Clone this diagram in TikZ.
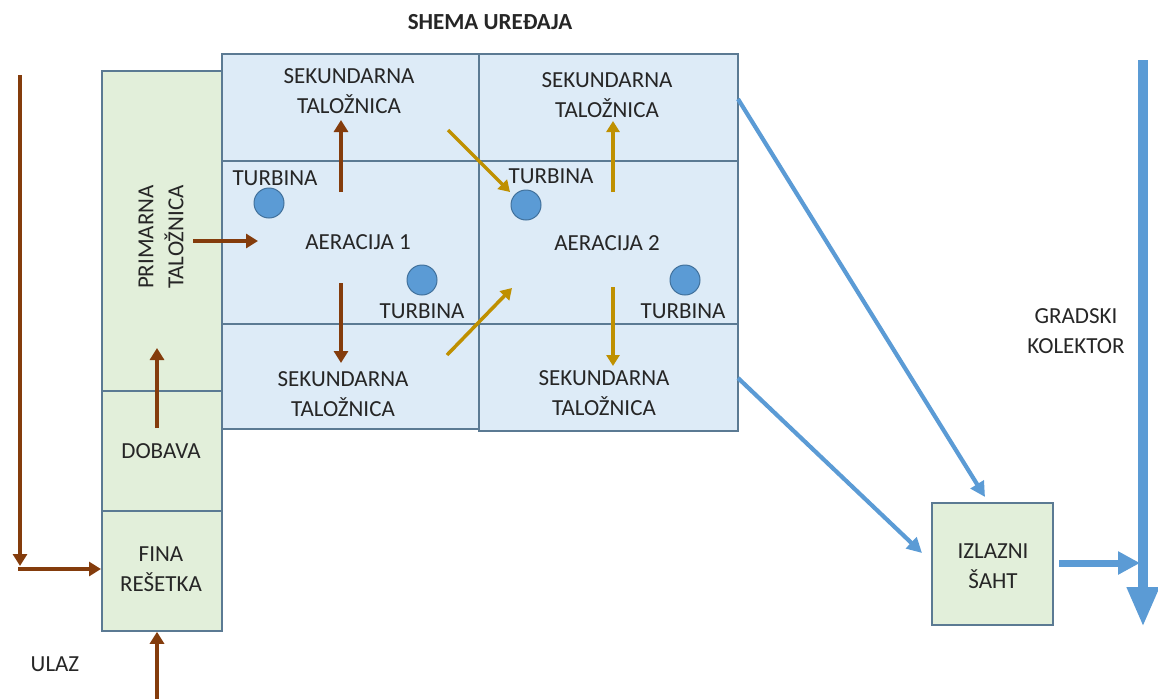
\documentclass[tikz,border=0pt]{standalone}
\usepackage{fontspec}
\setmainfont{Carlito}
\usetikzlibrary{arrows.meta}
\definecolor{edgeC}{HTML}{5B7A93}
\definecolor{greenF}{HTML}{E2EFDA}
\definecolor{blueF}{HTML}{DDEBF7}
\definecolor{brownA}{HTML}{843C0C}
\definecolor{goldA}{HTML}{BF9000}
\definecolor{blueA}{HTML}{5B9BD5}
\definecolor{blueD}{HTML}{41719C}
\definecolor{txt}{HTML}{262626}
\tikzset{
  box/.style={draw=edgeC, line width=1.8pt, anchor=north west, inner sep=0pt},
  gbox/.style={box, fill=greenF},
  bbox/.style={box, fill=blueF},
  lbl/.style={font=\fontsize{23}{30}\selectfont, text=txt, align=center, inner sep=0pt},
  brownarr/.style={draw=brownA, line width=4pt, -{Triangle[length=12pt,width=14pt]}},
  goldarr/.style={draw=goldA, line width=3.5pt, -{Triangle[length=11pt,width=13pt]}},
  bluearr/.style={draw=blueA, line width=4.2pt, -{Triangle[length=15pt,width=15pt]}},
  turb/.style={circle, fill=blueA, draw=blueD, line width=1pt, minimum size=30pt, inner sep=0pt}
}
\begin{document}
\begin{tikzpicture}[x=1pt,y=-1pt]
\useasboundingbox (0,0) rectangle (1158,699);
% green column
\node[gbox, minimum width=120pt, minimum height=320pt] (prim) at (101,70) {};
\node[gbox, minimum width=120pt, minimum height=120pt] (dob) at (101,390) {};
\node[gbox, minimum width=120pt, minimum height=120pt] (fina) at (101,510) {};
% blue grid
\node[bbox, minimum width=257pt, minimum height=107pt] (s1) at (221,53) {};
\node[bbox, minimum width=257pt, minimum height=163pt] (a1) at (221,160) {};
\node[bbox, minimum width=257pt, minimum height=105pt] (s3) at (221,323) {};
\node[bbox, minimum width=259pt, minimum height=107pt] (s2) at (478,53) {};
\node[bbox, minimum width=259pt, minimum height=163pt] (a2) at (478,160) {};
\node[bbox, minimum width=259pt, minimum height=107pt] (s4) at (478,323) {};
% outlet
\node[gbox, minimum width=121pt, minimum height=122pt] (izl) at (931,502) {};
% texts
\node[font=\fontsize{23}{28}\selectfont\bfseries, text=txt, inner sep=0pt] (title) at (490,22) {SHEMA UREĐAJA};
\node[lbl] (t1) at (349,91) {SEKUNDARNA\\TALOŽNICA};
\node[lbl] (t2) at (607,95) {SEKUNDARNA\\TALOŽNICA};
\node[lbl] (t3) at (343,394) {SEKUNDARNA\\TALOŽNICA};
\node[lbl] (t4) at (604,393) {SEKUNDARNA\\TALOŽNICA};
\node[lbl] (ae1) at (358,242) {AERACIJA 1};
\node[lbl] (ae2) at (607,243) {AERACIJA 2};
\node[lbl] (tb1) at (275,178) {TURBINA};
\node[lbl] (tb2) at (422,311) {TURBINA};
\node[lbl] (tb3) at (551,176) {TURBINA};
\node[lbl] (tb4) at (683,311) {TURBINA};
\node[lbl, rotate=90] (tp) at (161,237) {PRIMARNA\\TALOŽNICA};
\node[lbl] (td) at (161,451) {DOBAVA};
\node[lbl] (tf) at (161,569) {FINA\\REŠETKA};
\node[lbl] (ti) at (993,566) {IZLAZNI\\ŠAHT};
\node[lbl] (tu) at (55,664) {ULAZ};
\node[lbl] (tg) at (1076,331) {GRADSKI\\KOLEKTOR};
% turbines
\node[turb] (c1) at (269,203) {};
\node[turb] (c2) at (422,280) {};
\node[turb] (c3) at (526,205) {};
\node[turb] (c4) at (685,280) {};
% coordinates
\coordinate (inTop) at (20,75);
\coordinate (inCorner) at (20,566);
\coordinate (inH) at (18,569);
\coordinate (inB) at (157,699);
\coordinate (d1) at (157,428);
\coordinate (d2) at (157,348);
\coordinate (p1) at (193,241);
\coordinate (p2) at (258,241);
\coordinate (u1) at (341,192);
\coordinate (u2) at (341,120);
\coordinate (w1) at (341,283);
\coordinate (w2) at (341,363);
\coordinate (g1) at (448,130);
\coordinate (g2) at (510,192);
\coordinate (g3) at (447,355);
\coordinate (g4) at (512,288);
\coordinate (g5) at (613,192);
\coordinate (g6) at (613,121);
\coordinate (g7) at (613,287);
\coordinate (g8) at (613,366);
\coordinate (b1) at (738,99);
\coordinate (b2) at (985,497);
\coordinate (b3) at (738,378);
\coordinate (b4) at (922,553);
\coordinate (k1) at (1143,60);
\coordinate (k2) at (1143,627);
\coordinate (e1) at (1059,563);
\coordinate (e2) at (1140,563);
% brown arrows
\draw[brownarr] (inTop) -- (inCorner);
\draw[brownarr] (inH) -- (fina.west |- inH);
\draw[brownarr] (inB) -- (fina.south -| inB);
\draw[brownarr] (d1) -- (d2);
\draw[brownarr] (p1) -- (p2);
\draw[brownarr] (u1) -- (u2);
\draw[brownarr] (w1) -- (w2);
% gold arrows
\draw[goldarr] (g1) -- (g2);
\draw[goldarr] (g3) -- (g4);
\draw[goldarr] (g5) -- (g6);
\draw[goldarr] (g7) -- (g8);
% blue arrows
\draw[bluearr] (b1) -- (b2);
\draw[bluearr] (b3) -- (b4);
\draw[draw=blueA, line width=10pt, -{Triangle[length=40pt,width=30pt]}] (k1) -- (k2);
\draw[draw=blueA, line width=7pt, -{Triangle[length=22pt,width=22pt]}] (e1) -- (e2);
\end{tikzpicture}
\end{document}
